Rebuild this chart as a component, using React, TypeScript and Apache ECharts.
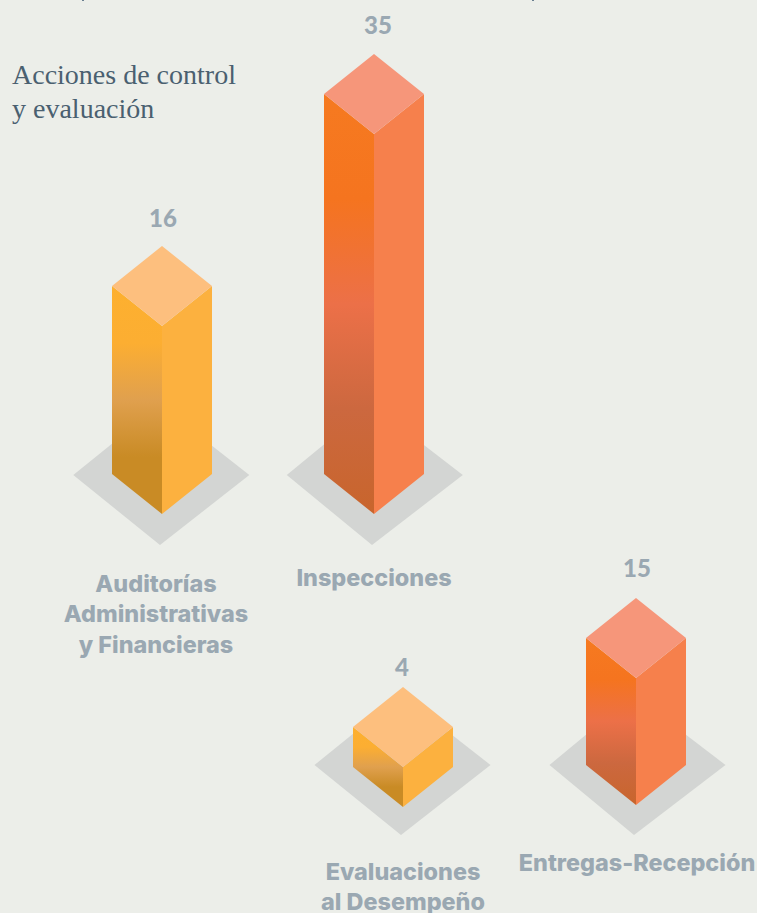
import React, { useEffect, useRef } from "react";
import * as echarts from "echarts";

const categories = [
  "Auditorías\nAdministrativas\ny Financieras",
  "Inspecciones",
  "Evaluaciones\nal Desempeño",
  "Entregas-Recepción",
];
const values = [16, 35, 4, 15];
const titleText = "Acciones de control\ny evaluación";

// layout of each isometric column (one hidden grid per column)
const layouts = [
  { left: 112, top: 286, height: 188, margin: 94, shift: 12, valueDx: 1, valueDy: 29, palette: 0, shadowDx: -0.7, shadowDy: 1 },
  { left: 324, top: 94, height: 380, margin: 88, shift: 0, valueDx: 4, valueDy: 30, palette: 1, shadowDx: 0.8, shadowDy: 1 },
  { left: 353, top: 727, height: 40, margin: 89, shift: 0, valueDx: -1, valueDy: 21, palette: 0, shadowDx: -0.5, shadowDy: -2 },
  { left: 586, top: 638, height: 127, margin: 82, shift: -2, valueDx: 1, valueDy: 31, palette: 1, shadowDx: 1.5, shadowDy: 0 },
];
const palettes = [
  { top: "#fdbf7e", right: "#fcb13f", stops: ["#fdb02f", "#fcae32", "#e0a04e", "#c98b25", "#c98b25"] },
  { top: "#f6967a", right: "#f6804c", stops: ["#f67a20", "#f5741f", "#ec7048", "#cc683f", "#c8652c"] },
];
const LABEL_FONT = "Inter";
const VALUE_FONT = "Lato";
const LABEL_COLOR = "#9aa8b2";
const BG = "#eceee9";

export default function App() {
  const ref = useRef<HTMLDivElement>(null);
  useEffect(() => {
    document.body.style.margin = "0";
    const chart = echarts.init(ref.current!, null, { renderer: "svg" });
    chart.setOption({
      animation: false,
      backgroundColor: BG,
      title: {
        text: titleText,
        left: 7,
        top: 52,
        textStyle: {
          fontFamily: "Liberation Serif",
          fontWeight: "normal",
          fontSize: 28,
          lineHeight: 34,
          color: "#4a6070",
        },
      },
      graphic: [82, 532].map((x) => ({
        type: "rect",
        shape: { x, y: 0, width: 2, height: 1 },
        style: { fill: "#6a7f90" },
      })),
      grid: layouts.map((l) => ({
        left: l.left,
        top: l.top,
        width: 100,
        height: l.height,
        outerBoundsMode: "none",
      })),
      xAxis: layouts.map((l, i) => ({
        type: "category",
        gridIndex: i,
        data: [categories[i]],
        axisLine: { show: false },
        axisTick: { show: false },
        axisLabel: {
          interval: 0,
          margin: l.margin,
          padding: l.shift >= 0 ? [0, l.shift, 0, 0] : [0, 0, 0, -l.shift],
          fontFamily: LABEL_FONT,
          fontWeight: 800,
          fontSize: 23.4,
          lineHeight: 30.5,
          color: LABEL_COLOR,
        },
      })),
      yAxis: layouts.map((_, i) => ({
        type: "value",
        gridIndex: i,
        min: 0,
        max: values[i],
        show: false,
      })),
      series: layouts.map((l, i) => ({
        type: "custom",
        xAxisIndex: i,
        yAxisIndex: i,
        data: [[0, values[i]]],
        encode: { x: 0, y: 1 },
        renderItem: (_p: any, api: any) => {
          const v = api.value(1);
          const [cx, base] = api.coord([0, 0]);
          const [, top] = api.coord([0, v]);
          const hw = api.size([1, 0])[0] / 2;
          const dy = hw * 0.8;
          const pal = palettes[l.palette];
          const sw = hw * 1.76;
          const sh = hw * 1.4;
          const sx = cx + l.shadowDx;
          const sy = base + l.shadowDy;
          const n = pal.stops.length - 1;
          return {
            type: "group",
            children: [
              {
                type: "polygon",
                shape: {
                  points: [
                    [cx - 2, sy - sh],
                    [sx + sw, sy],
                    [cx - 2, sy + sh],
                    [sx - sw, sy],
                  ],
                },
                style: { fill: "#d3d5d3" },
              },
              {
                type: "polygon",
                shape: { points: [[cx - hw, top], [cx, top + dy], [cx, base + dy], [cx - hw, base]] },
                style: {
                  fill: new echarts.graphic.LinearGradient(
                    0, 0, 0, 1,
                    pal.stops.map((color, k) => ({ offset: k / n, color })),
                  ),
                },
              },
              {
                type: "polygon",
                shape: { points: [[cx, top + dy], [cx + hw, top], [cx + hw, base], [cx, base + dy]] },
                style: { fill: pal.right },
              },
              {
                type: "polygon",
                shape: { points: [[cx - hw, top], [cx, top - dy], [cx + hw, top], [cx, top + dy]] },
                style: { fill: pal.top },
              },
              {
                type: "text",
                style: {
                  x: cx + l.valueDx,
                  y: top - dy - l.valueDy,
                  text: String(v),
                  align: "center",
                  verticalAlign: "middle",
                  fontFamily: VALUE_FONT,
                  fontWeight: 900,
                  fontSize: 24,
                  fill: LABEL_COLOR,
                },
              },
            ],
          };
        },
      })),
    });
    return () => chart.dispose();
  }, []);
  return <div ref={ref} style={{ width: 757, height: 913 }} />;
}
